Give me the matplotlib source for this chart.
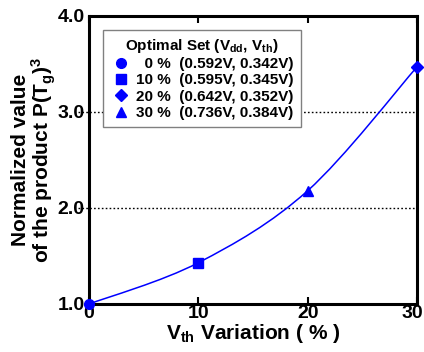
import numpy as np
import matplotlib
matplotlib.use("Agg")
import matplotlib.pyplot as plt
import matplotlib.transforms as mtransforms
from matplotlib.path import Path
from matplotlib.patches import PathPatch
from matplotlib.lines import Line2D

plt.rcParams['font.family'] = ['Liberation Sans', 'DejaVu Sans']
plt.rcParams['font.weight'] = 'bold'
plt.rcParams['mathtext.fontset'] = 'custom'
plt.rcParams['mathtext.rm'] = 'Liberation Sans:bold'
plt.rcParams['mathtext.it'] = 'Liberation Sans:bold'
plt.rcParams['mathtext.bf'] = 'Liberation Sans:bold'
plt.rcParams['mathtext.default'] = 'bf'

# data
variation = [0, 10, 20, 30]
product = [1.0, 1.43, 2.18, 3.47]
plot_markers = ['o', 's', '^', 'D']
legend_markers = ['o', 's', 'D', '^']
legend_labels = ['  0 %  (0.592V, 0.342V)', '10 %  (0.595V, 0.345V)',
                 '20 %  (0.642V, 0.352V)', '30 %  (0.736V, 0.384V)']
x_ticks = [0, 10, 20, 30]
y_ticks = [1.0, 2.0, 3.0, 4.0]
blue = '#0000FF'

fig = plt.figure(figsize=(4.24, 3.52), dpi=100)
ax = fig.add_axes([89/424, 1-304/352, (417-89)/424, (304-16)/352])
ax.set_xlim(0, 30)
ax.set_ylim(1.0, 4.0)

# smooth curve through the points (Catmull-Rom as Bezier path)
pts = np.column_stack([variation, product]).astype(float)
verts = [tuple(pts[0])]
codes = [Path.MOVETO]
n = len(pts)
for i in range(n - 1):
    p0 = pts[i - 1] if i > 0 else pts[i]
    p1 = pts[i]
    p2 = pts[i + 1]
    p3 = pts[i + 2] if i + 2 < n else pts[i + 1]
    c1 = p1 + (p2 - p0) / 6.0
    c2 = p2 - (p3 - p1) / 6.0
    verts += [tuple(c1), tuple(c2), tuple(p2)]
    codes += [Path.CURVE4] * 3
ax.add_patch(PathPatch(Path(verts, codes), facecolor='none', edgecolor=blue,
                       lw=1.1, zorder=3))

for xv, yv, m in zip(variation, product, plot_markers):
    ax.plot([xv], [yv], marker=m, color=blue, ms=7 if m != 'D' else 6.5,
            linestyle='none', zorder=4, clip_on=False)

# dotted reference lines
for yv in [2.0, 3.0]:
    ax.plot([-0.035, 1], [yv, yv], transform=ax.get_yaxis_transform(),
            color='black', ls=(0, (1.2, 1.6)), lw=1.0, clip_on=False, zorder=1)

ax.set_xticks(x_ticks)
ax.set_xticklabels([str(t) for t in x_ticks])
ax.set_yticks(y_ticks)
ax.set_yticklabels([f'{t:.1f}' for t in y_ticks])
ax.tick_params(axis='both', direction='in', labelsize=14, length=5, width=1.5,
               top=True, right=False, pad=1)
ax.tick_params(axis='y', length=0, pad=3)
for lbl in ax.get_xticklabels() + ax.get_yticklabels():
    lbl.set_fontweight('bold')
last = ax.get_xticklabels()[-1]
last.set_transform(last.get_transform() +
                   mtransforms.ScaledTranslation(-5/100, 0, fig.dpi_scale_trans))
for s in ax.spines.values():
    s.set_linewidth(2.2)

ax.set_xlabel(r'V$_{\mathrm{th}}$ Variation ( % )', fontsize=15, fontweight='bold', labelpad=0)
ax.set_ylabel('Normalized value\n' + r'of the product P(T$_{\mathrm{g}}$)$^{3}$',
              fontsize=15, fontweight='bold', labelpad=0, linespacing=0.95)

handles = [Line2D([], [], marker=m, color=blue, linestyle='none', ms=7 if m != 'D' else 6.5)
           for m in legend_markers]
leg = ax.legend(handles, legend_labels,
                title=r'Optimal Set (V$_{\mathrm{dd}}$, V$_{\mathrm{th}}$)',
                loc='upper left', bbox_to_anchor=(14/328, 1 - 14/288),
                prop={'weight': 'bold', 'size': 11}, title_fontproperties={'weight': 'bold', 'size': 11},
                frameon=True, fancybox=False, edgecolor='#808080', framealpha=1,
                handlelength=1.4, handletextpad=0.33, labelspacing=0.15,
                borderpad=0.45, alignment='center', borderaxespad=0)
leg.get_frame().set_linewidth(1.0)

fig.savefig('out.png', dpi=100)
